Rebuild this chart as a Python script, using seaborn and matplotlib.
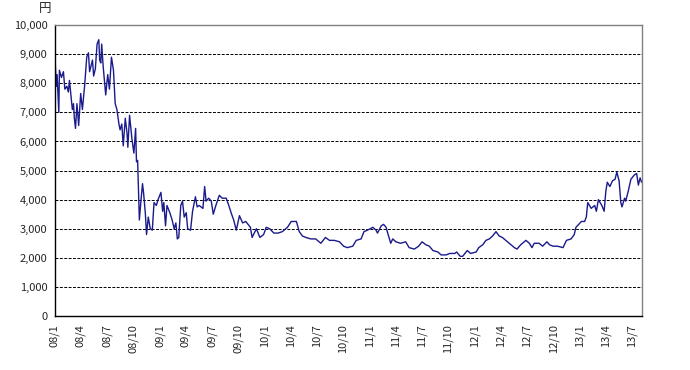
import pandas as pd
import matplotlib
matplotlib.use('Agg')
import matplotlib.pyplot as plt
import seaborn as sns

# 株価の推移 (読み取り値, 円)
dates = [
    '2008-01-04', '2008-01-07', '2008-01-10', '2008-01-16', '2008-01-18', '2008-01-25',
    '2008-02-01', '2008-02-06', '2008-02-13', '2008-02-18', '2008-02-22', '2008-02-27',
    '2008-03-03', '2008-03-07', '2008-03-10', '2008-03-14', '2008-03-19', '2008-03-25',
    '2008-04-01', '2008-04-07', '2008-04-15', '2008-04-22', '2008-04-28',
    '2008-05-02', '2008-05-12', '2008-05-16', '2008-05-22', '2008-05-28',
    '2008-06-03', '2008-06-06', '2008-06-10', '2008-06-13', '2008-06-18', '2008-06-27',
    '2008-07-04', '2008-07-10', '2008-07-17', '2008-07-24', '2008-07-30',
    '2008-08-05', '2008-08-12', '2008-08-16', '2008-08-22', '2008-08-27',
    '2008-09-03', '2008-09-09', '2008-09-12', '2008-09-18', '2008-09-26',
    '2008-10-03', '2008-10-09', '2008-10-12', '2008-10-16', '2008-10-22', '2008-10-27',
    '2008-11-02', '2008-11-06', '2008-11-12', '2008-11-16', '2008-11-22', '2008-11-29',
    '2008-12-06', '2008-12-12', '2008-12-20', '2008-12-26',
    '2009-01-05', '2009-01-11', '2009-01-15', '2009-01-21', '2009-01-26',
    '2009-02-05', '2009-02-13', '2009-02-20', '2009-02-26',
    '2009-03-03', '2009-03-08', '2009-03-15', '2009-03-21', '2009-03-27',
    '2009-04-03', '2009-04-08', '2009-04-18', '2009-04-25',
    '2009-05-05', '2009-05-11', '2009-05-18', '2009-05-31',
    '2009-06-06', '2009-06-11', '2009-06-20', '2009-06-29',
    '2009-07-06', '2009-07-15', '2009-07-27',
    '2009-08-06', '2009-08-20', '2009-08-29',
    '2009-09-06', '2009-09-15', '2009-09-24',
    '2009-10-05', '2009-10-16', '2009-10-27',
    '2009-11-12', '2009-11-18', '2009-12-03', '2009-12-15', '2009-12-28',
    '2010-01-06', '2010-01-18', '2010-02-02', '2010-02-16', '2010-03-03', '2010-03-21',
    '2010-04-03', '2010-04-14', '2010-04-21', '2010-05-01', '2010-05-12', '2010-05-24',
    '2010-06-10', '2010-06-27', '2010-07-15', '2010-07-31', '2010-08-14', '2010-08-31',
    '2010-09-18', '2010-10-02', '2010-10-15', '2010-11-03', '2010-11-15',
    '2010-12-02', '2010-12-12', '2010-12-24',
    '2011-01-12', '2011-01-23', '2011-01-28', '2011-02-10', '2011-02-18', '2011-02-27',
    '2011-03-03', '2011-03-15', '2011-03-22', '2011-04-02', '2011-04-18',
    '2011-05-06', '2011-05-18', '2011-06-05', '2011-06-20',
    '2011-07-02', '2011-07-15', '2011-07-27', '2011-08-09', '2011-08-26',
    '2011-09-06', '2011-09-24', '2011-10-06', '2011-10-24', '2011-10-30',
    '2011-11-12', '2011-11-20', '2011-12-02', '2011-12-06', '2011-12-18',
    '2012-01-06', '2012-01-15', '2012-01-29', '2012-02-09', '2012-02-21',
    '2012-03-03', '2012-03-15', '2012-03-26', '2012-04-06', '2012-04-18',
    '2012-05-06', '2012-05-18', '2012-05-27', '2012-06-09', '2012-06-27',
    '2012-07-09', '2012-07-18', '2012-07-26', '2012-08-12', '2012-08-24',
    '2012-09-08', '2012-09-17', '2012-09-29', '2012-10-15',
    '2012-11-03', '2012-11-15', '2012-12-01', '2012-12-12', '2012-12-18',
    '2013-01-06', '2013-01-17', '2013-01-23', '2013-01-28',
    '2013-02-09', '2013-02-21', '2013-02-27',
    '2013-03-06', '2013-03-18', '2013-03-26',
    '2013-04-01', '2013-04-06', '2013-04-15', '2013-04-24',
    '2013-05-03', '2013-05-09', '2013-05-17', '2013-05-23', '2013-05-27',
    '2013-06-05', '2013-06-09', '2013-06-18', '2013-06-27',
    '2013-07-09', '2013-07-17', '2013-07-23', '2013-07-29', '2013-08-03',
]
prices = [
    8600, 7900, 8300, 7000, 8450, 8200,
    8400, 7800, 7900, 7700, 8100, 7600,
    7100, 7300, 6800, 6450, 7300, 6550,
    7650, 7100, 7950, 8900, 9050,
    8400, 8800, 8250, 8500, 9350,
    9500, 8800, 8700, 9350, 8600, 7600,
    8300, 7800, 8900, 8450, 7300,
    7100, 6600, 6400, 6600, 5850,
    6800, 6300, 5800, 6900, 6100,
    5600, 6450, 5300, 5350, 3300, 3900,
    4550, 4200, 3500, 2800, 3400, 3000,
    2950, 3900, 3800, 4000,
    4250, 3600, 3900, 3100, 3800,
    3550, 3300, 3000, 3200,
    2650, 2700, 3800, 3950, 3400,
    3550, 3000, 2950, 3600,
    4100, 3750, 3800, 3700,
    4450, 3950, 4050, 3950,
    3500, 3800, 4150,
    4050, 4050, 3800,
    3550, 3300, 2950,
    3450, 3200, 3250,
    3050, 2700, 3000, 2700, 2800,
    3050, 3000, 2850, 2850, 2900, 3050,
    3250, 3250, 3250, 2900, 2750, 2700,
    2650, 2650, 2500, 2700, 2600, 2600,
    2550, 2400, 2350, 2400, 2600,
    2650, 2900, 2950,
    3050, 2950, 2850, 3100, 3150, 3050,
    2900, 2500, 2650, 2550, 2500,
    2550, 2350, 2300, 2400,
    2550, 2450, 2400, 2250, 2200,
    2100, 2100, 2150, 2150, 2200,
    2050, 2050, 2200, 2250, 2150,
    2200, 2350, 2450, 2600, 2650,
    2750, 2900, 2750, 2700, 2600,
    2450, 2350, 2300, 2450, 2600,
    2500, 2350, 2500, 2500, 2400,
    2550, 2450, 2400, 2400,
    2350, 2600, 2650, 2800, 3050,
    3250, 3250, 3400, 3900,
    3700, 3800, 3600,
    4000, 3800, 3600,
    4300, 4600, 4450, 4650,
    4700, 4950, 4650, 3900, 3750,
    4050, 3950, 4300, 4700,
    4850, 4900, 4500, 4750, 4600,
]
y_ticks = [0, 1000, 2000, 3000, 4000, 5000, 6000, 7000, 8000, 9000, 10000]

df = pd.DataFrame({'date': pd.to_datetime(dates), 'price': prices})

sns.set_style('white')
plt.rcParams['font.family'] = ['Noto Sans CJK JP', 'DejaVu Sans']

fig = plt.figure(figsize=(6.9, 3.7), dpi=100)
ax = fig.add_axes([0.079, 0.146, 0.852, 0.786])

sns.lineplot(data=df, x='date', y='price', color='#1a1a8c', linewidth=1.0, ax=ax)

ax.set_xlim(pd.Timestamp('2008-01-01'), pd.Timestamp('2013-08-06'))
ax.set_ylim(0, 10000)

# 四半期ごとの目盛り
tick_dates = pd.date_range('2008-01-01', '2013-07-01', freq='QS')
ax.set_xticks(tick_dates)
ax.set_xticklabels([f'{d.year % 100:02d}/{d.month}' for d in tick_dates],
                   rotation=90, fontsize=8)
ax.set_yticks(y_ticks)
ax.set_yticklabels([f'{v:,}' for v in y_ticks], fontsize=8)
ax.tick_params(axis='both', direction='out', length=3, width=0.8, color='black', pad=2)
ax.tick_params(axis='x', length=4)

for v in y_ticks[1:-1]:
    ax.axhline(v, color='black', linestyle=(0, (3, 1.5)), linewidth=0.7, zorder=0)

ax.spines['left'].set_color('black')
ax.spines['bottom'].set_color('black')
ax.spines['top'].set_color('#808080')
ax.spines['right'].set_color('#808080')
for s in ax.spines.values():
    s.set_linewidth(1.0)

ax.set_xlabel('')
ax.set_ylabel('')
fig.text(0.066, 0.977, '円', fontsize=9, ha='center', va='center')

fig.savefig('out.png', dpi=100)
